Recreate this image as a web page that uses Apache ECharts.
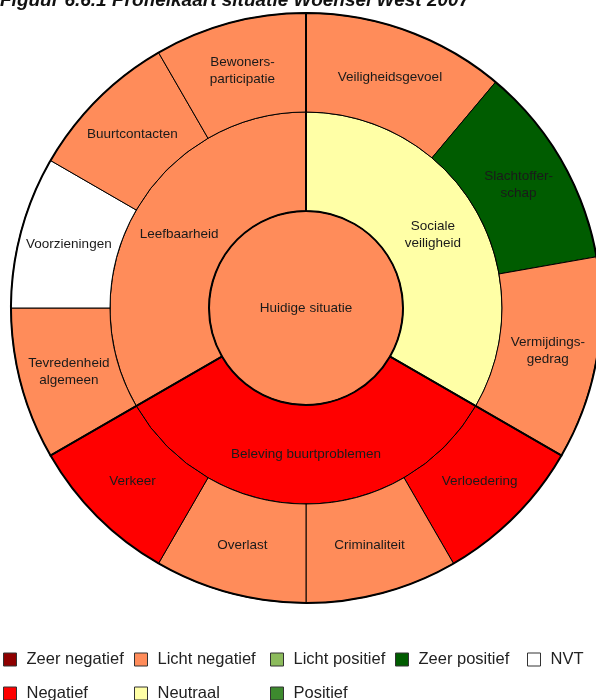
<!DOCTYPE html>
<html>
<head>
<meta charset="UTF-8">
<title>Profielkaart situatie Woensel West 2007</title>
<style>
  * { margin: 0; padding: 0; }
  body { background: #fff; }
  #chart { width: 596px; height: 700px; }
</style>
</head>
<body>
<div id="chart"></div>
<script src="https://cdn.jsdelivr.net/npm/echarts@6/dist/echarts.min.js"></script>
<script>
// gegevens
var titel = 'Figuur 6.6.1 Profielkaart situatie Woensel West 2007';
var kern = 'Huidige situatie';
var kernScore = 'Licht negatief';

var domeinen = ['Sociale\nveiligheid', 'Beleving buurtproblemen', 'Leefbaarheid'];
var domeinScores = ['Neutraal', 'Negatief', 'Licht negatief'];

var indicatoren = [
  ['Veiligheidsgevoel', 'Slachtoffer-\nschap', 'Vermijdings-\ngedrag'],
  ['Verloedering', 'Criminaliteit', 'Overlast', 'Verkeer'],
  ['Tevredenheid\nalgemeen', 'Voorzieningen', 'Buurtcontacten', 'Bewoners-\nparticipatie']
];
var indicatorScores = [
  ['Licht negatief', 'Zeer positief', 'Licht negatief'],
  ['Negatief', 'Licht negatief', 'Licht negatief', 'Negatief'],
  ['Licht negatief', 'NVT', 'Licht negatief', 'Licht negatief']
];
// sectorgrootte in graden
var indicatorHoeken = [
  [40, 40, 40],
  [30, 30, 30, 30],
  [30, 30, 30, 30]
];

var scores = ['Zeer negatief', 'Negatief', 'Licht negatief', 'Neutraal',
  'Licht positief', 'Positief', 'Zeer positief', 'NVT'];
var scoreKleuren = ['#8e0000', '#ff0000', '#ff8c5a', '#ffffa6',
  '#8cbb5c', '#3d8a2e', '#005c00', '#ffffff'];

// legenda in kolommen, zoals in het origineel
var legendaKolommen = [
  ['Zeer negatief', 'Negatief'],
  ['Licht negatief', 'Neutraal'],
  ['Licht positief', 'Positief'],
  ['Zeer positief'],
  ['NVT']
];

function kleur(score) {
  return scoreKleuren[scores.indexOf(score)];
}

var centrum = [306, 308];
var font = '"Liberation Sans", Arial, sans-serif';

// sunburst data opbouwen
var domeinData = [];
var domeinTotaal = [];
for (var i = 0; i < domeinen.length; i++) {
  var kinderen = [];
  var som = 0;
  for (var j = 0; j < indicatoren[i].length; j++) {
    kinderen.push({
      name: indicatoren[i][j],
      value: indicatorHoeken[i][j],
      itemStyle: { color: kleur(indicatorScores[i][j]) }
    });
    som += indicatorHoeken[i][j];
  }
  domeinTotaal.push({ name: domeinen[i], value: som });
  domeinData.push({
    name: domeinen[i],
    itemStyle: { color: kleur(domeinScores[i]) },
    children: kinderen
  });
}

var legendaData = [];
for (var k = 0; k < scores.length; k++) {
  legendaData.push({ name: scores[k], value: 1, itemStyle: { color: scoreKleuren[k] } });
}

var kolomLinks = [3, 134, 270, 395, 527];
var legendas = [];
for (var c = 0; c < legendaKolommen.length; c++) {
  legendas.push({
    orient: 'vertical',
    left: kolomLinks[c],
    top: 651,
    height: 80,
    padding: 0,
    itemWidth: 13,
    itemHeight: 13,
    itemGap: 17,
    icon: 'rect',
    selectedMode: false,
    data: legendaKolommen[c],
    itemStyle: { borderColor: '#333', borderWidth: 1 },
    textStyle: { fontSize: 16.5, lineHeight: 16, color: '#222', fontFamily: font, padding: [0, 0, 0, 5] }
  });
}

var chart = echarts.init(document.getElementById('chart'));
var option = {
  animation: false,
  title: {
    text: titel,
    left: 0,
    top: -9,
    padding: 0,
    textStyle: { fontSize: 19, fontWeight: 'bold', fontStyle: 'italic', color: '#111', fontFamily: font }
  },
  legend: legendas,
  series: [
    {
      type: 'sunburst',
      center: centrum,
      sort: null,
      nodeClick: false,
      startAngle: 90,
      emphasis: { disabled: true },
      data: [{
        name: kern,
        itemStyle: { color: kleur(kernScore) },
        children: domeinData
      }],
      itemStyle: { borderColor: '#000', borderWidth: 1 },
      label: {
        rotate: 0,
        align: 'center',
        fontSize: 13.5,
        lineHeight: 17,
        color: '#1a1a1a',
        textBorderWidth: 0,
        textBorderColor: 'transparent',
        fontFamily: font
      },
      levels: [
        {},
        { r0: 0, r: 97 },
        { r0: 97, r: 196 },
        { r0: 196, r: 295 }
      ]
    },
    {
      // dikke lijnen rond de domeinen
      type: 'pie',
      center: centrum,
      radius: [97, 295],
      startAngle: 90,
      silent: true,
      z: 5,
      label: { show: false },
      labelLine: { show: false },
      emphasis: { disabled: true },
      itemStyle: { color: 'rgba(0,0,0,0)', borderColor: '#000', borderWidth: 2 },
      data: domeinTotaal
    },
    {
      // alleen voor de legenda
      type: 'pie',
      center: [-100, -100],
      radius: [0, 1],
      silent: true,
      label: { show: false },
      labelLine: { show: false },
      data: legendaData
    }
  ]
};
chart.setOption(option);
</script>
</body>
</html>
